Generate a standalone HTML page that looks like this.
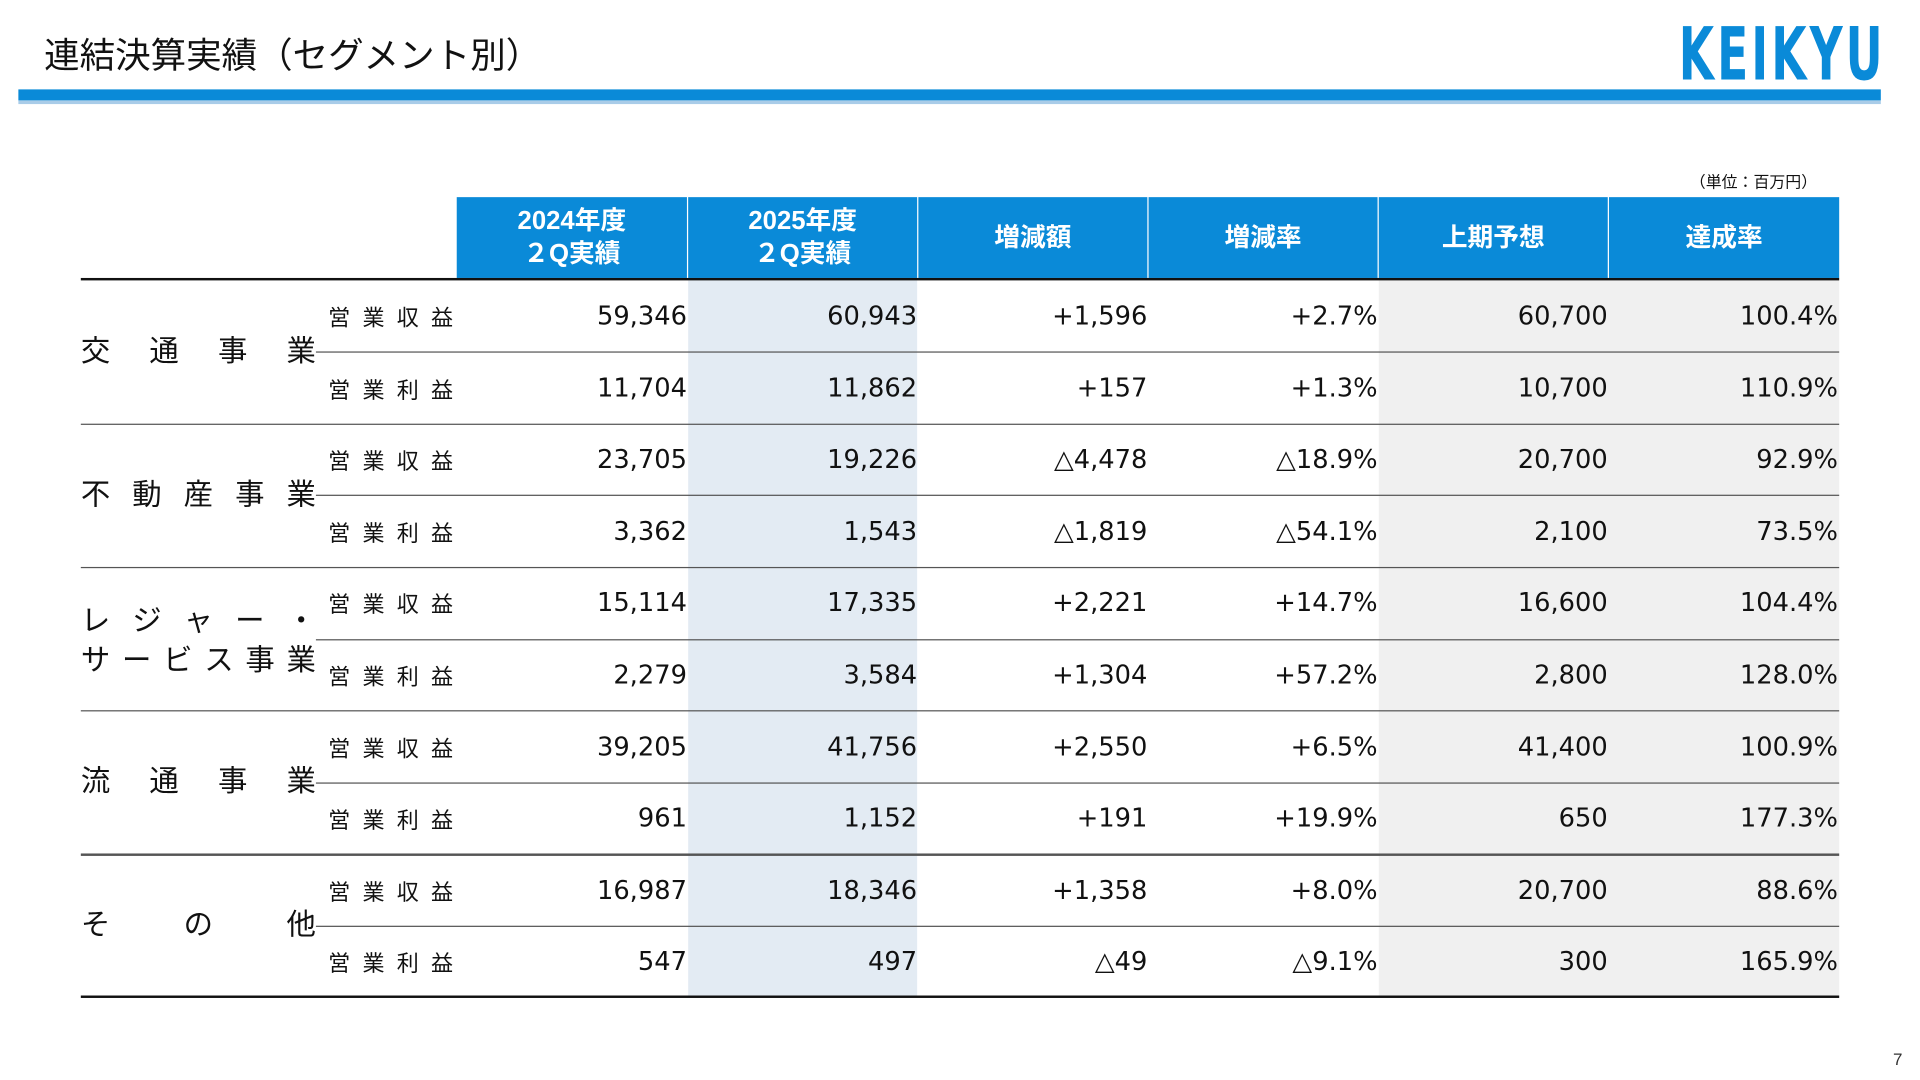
<!DOCTYPE html>
<html><head><meta charset="utf-8"><style>
html,body{margin:0;padding:0;background:#fff;overflow:hidden}
#wrap{width:1568px;height:882px;position:relative;transform:scale(1.22449);transform-origin:0 0;font-family:"Liberation Sans","Noto Sans CJK JP",sans-serif;color:#111}
.abs{position:absolute}
.title{left:36px;top:22px;font-size:29px;white-space:nowrap}
.logo{left:1371px;top:10px;font-size:60px;font-weight:bold;color:#0a8ad8;letter-spacing:4px;transform:scaleX(0.62);transform-origin:0 0;font-family:"DejaVu Sans","Liberation Sans",sans-serif}
.hcell{position:absolute;top:161px;height:66px;background:#0a8ad8;color:#fff;font-weight:bold;font-size:21px;display:flex;align-items:center;justify-content:center;text-align:center;line-height:27px}
.num{position:absolute;font-size:21px;text-align:right;width:180px;font-family:"DejaVu Sans",sans-serif}
.sub{position:absolute;left:268px;font-size:18px;letter-spacing:10px}
.seg{position:absolute;left:66px;font-size:24px}
</style></head><body><div id="wrap">
<div class="abs title">連結決算実績（セグメント別）</div>
<div class="abs logo">KEIKYU</div>
<div class="abs" style="left:15px;top:73px;width:1521px;height:9px;background:#0a8ad8"></div>
<div class="abs" style="left:15px;top:82px;width:1521px;height:3px;background:#a9cce8"></div>
<div class="abs" style="left:1380px;top:138px;font-size:13px">（単位：百万円）</div>
<div class="abs" style="left:562px;top:229px;width:187px;height:585px;background:#e3ebf3"></div>
<div class="abs" style="left:1126px;top:229px;width:376px;height:585px;background:#f0f0f0"></div>
<div class="hcell" style="left:373px;width:188px">2024年度<br>２Q実績</div>
<div class="hcell" style="left:562px;width:187px">2025年度<br>２Q実績</div>
<div class="hcell" style="left:750px;width:187px">増減額</div>
<div class="hcell" style="left:938px;width:187px">増減率</div>
<div class="hcell" style="left:1126px;width:187px">上期予想</div>
<div class="hcell" style="left:1314px;width:188px">達成率</div>
<div class="abs" style="left:66px;top:227px;width:1436px;height:2px;background:#111"></div>
<div class="abs" style="left:66px;top:813px;width:1436px;height:2px;background:#111"></div>
<div id="rows"></div>
</div>
<script>
var d=[["交　通　事　業",["59,346","60,943","+1,596","+2.7%","60,700","100.4%"],["11,704","11,862","+157","+1.3%","10,700","110.9%"]],
["不 動 産 事 業",["23,705","19,226","△4,478","△18.9%","20,700","92.9%"],["3,362","1,543","△1,819","△54.1%","2,100","73.5%"]],
["レ ジ ャ ー ・<br>サ ー ビ ス 事 業",["15,114","17,335","+2,221","+14.7%","16,600","104.4%"],["2,279","3,584","+1,304","+57.2%","2,800","128.0%"]],
["流　通　事　業",["39,205","41,756","+2,550","+6.5%","41,400","100.9%"],["961","1,152","+191","+19.9%","650","177.3%"]],
["そ　　の　　他",["16,987","18,346","+1,358","+8.0%","20,700","88.6%"],["547","497","△49","△9.1%","300","165.9%"]]];
var rights=[561,749,937,1125,1313,1501],h=58.6,top0=229,s="";
d.forEach(function(g,i){var y=top0+i*2*h;
var two=g[0].indexOf("<br>")>0;
s+='<div class="seg" style="top:'+(y+h-(two?30:16))+'px;width:192px;line-height:32px;text-align:justify;text-align-last:justify">'+g[0].replace("<br>",'</div><div class="seg" style="top:'+(y+h+2)+'px;width:192px;line-height:32px;text-align:justify;text-align-last:justify">')+'</div>';
s+='<div class="abs" style="left:258px;top:'+(y+h-0.5)+'px;width:1244px;height:1px;background:#555"></div>';
if(i>0)s+='<div class="abs" style="left:66px;top:'+(y-0.5)+'px;width:1436px;height:1.3px;background:#555"></div>';
[1,2].forEach(function(k){var ry=y+(k-1)*h;
s+='<div class="sub" style="top:'+(ry+17)+'px">'+(k==1?"営業収益":"営業利益")+'</div>';
g[k].forEach(function(v,j){s+='<div class="num" style="left:'+(rights[j]-180)+'px;top:'+(ry+17)+'px">'+v+'</div>';});});});
document.getElementById("rows").innerHTML=s;
</script>
<div style="position:absolute;left:1893px;top:1050px;font-family:'Liberation Sans',sans-serif;font-size:17px;color:#333">7</div>
</body></html>
